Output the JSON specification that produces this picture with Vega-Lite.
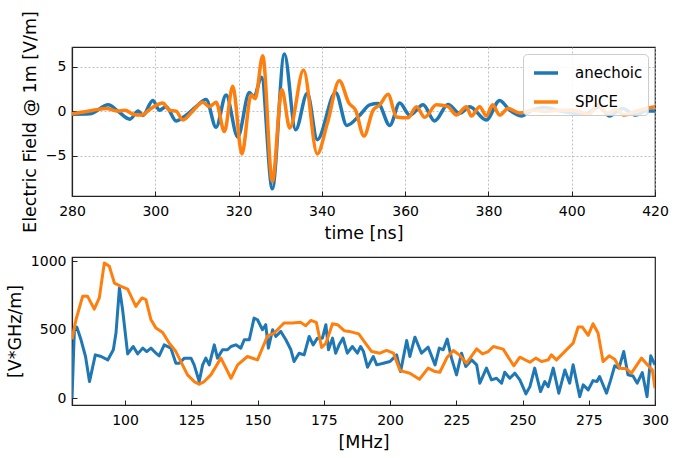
{
  "$schema": "https://vega.github.io/schema/vega-lite/v6.json",
  "padding": {"left": 5, "top": 10, "right": 10, "bottom": 8},
  "bounds": "flush",
  "spacing": 61,
  "config": {
    "font": "DejaVu Sans",
    "view": {"stroke": "#222", "strokeWidth": 1.2},
    "axis": {"labelFont": "DejaVu Sans", "labelFontSize": 14, "labelColor": "#000", "titleFont": "DejaVu Sans", "titleFontSize": 17.5, "titleFontWeight": "normal", "titleColor": "#000", "domainColor": "#222", "domainWidth": 1.2, "tickColor": "#222", "tickSize": -5, "tickWidth": 1, "grid": false, "format": "d", "labelFlush": false},
    "axisX": {"labelPadding": 13, "titlePadding": 6},
    "axisY": {"labelPadding": 11, "titlePadding": 6},
    "legend": {"title": null, "orient": "top-right", "offset": 7, "fillColor": "rgba(255,255,255,0.85)", "strokeColor": "#cccccc", "cornerRadius": 4, "padding": 5, "labelFontSize": 15, "labelFont": "DejaVu Sans", "labelColor": "#000", "symbolType": "stroke", "symbolSize": 576, "symbolStrokeWidth": 3.5, "symbolOffset": 4, "labelOffset": 15, "rowPadding": 7}
  },
  "datasets": {
    "time": [
      {"t": 280, "v": -0.35, "series": "anechoic"},
      {"t": 284.3, "v": -0.3, "series": "anechoic"},
      {"t": 288.7, "v": 0.7, "series": "anechoic"},
      {"t": 291, "v": 0, "series": "anechoic"},
      {"t": 293.9, "v": -0.9, "series": "anechoic"},
      {"t": 295.9, "v": 0, "series": "anechoic"},
      {"t": 297, "v": -0.5, "series": "anechoic"},
      {"t": 299.4, "v": 1.2, "series": "anechoic"},
      {"t": 301, "v": 0.1, "series": "anechoic"},
      {"t": 302.6, "v": 0.5, "series": "anechoic"},
      {"t": 305, "v": -1.1, "series": "anechoic"},
      {"t": 307, "v": -0.6, "series": "anechoic"},
      {"t": 309.8, "v": 0.5, "series": "anechoic"},
      {"t": 312.2, "v": 1.3, "series": "anechoic"},
      {"t": 314.6, "v": -1.8, "series": "anechoic"},
      {"t": 317, "v": 1.8, "series": "anechoic"},
      {"t": 319.8, "v": -2.9, "series": "anechoic"},
      {"t": 322.6, "v": 2.1, "series": "anechoic"},
      {"t": 323.7, "v": 1.6, "series": "anechoic"},
      {"t": 325.5, "v": 3.8, "series": "anechoic"},
      {"t": 328.1, "v": -8.7, "series": "anechoic"},
      {"t": 331, "v": 6.4, "series": "anechoic"},
      {"t": 333.7, "v": -2.1, "series": "anechoic"},
      {"t": 336.5, "v": 2.0, "series": "anechoic"},
      {"t": 338.9, "v": -3.2, "series": "anechoic"},
      {"t": 343.3, "v": 2.1, "series": "anechoic"},
      {"t": 346, "v": -1.6, "series": "anechoic"},
      {"t": 349.1, "v": -0.45, "series": "anechoic"},
      {"t": 351.5, "v": 0.7, "series": "anechoic"},
      {"t": 353.5, "v": 0.85, "series": "anechoic"},
      {"t": 356.3, "v": -1.6, "series": "anechoic"},
      {"t": 358.7, "v": 0.9, "series": "anechoic"},
      {"t": 361.1, "v": -0.45, "series": "anechoic"},
      {"t": 364.3, "v": 0.7, "series": "anechoic"},
      {"t": 367.1, "v": -1.1, "series": "anechoic"},
      {"t": 370.3, "v": 0.75, "series": "anechoic"},
      {"t": 373.1, "v": -0.25, "series": "anechoic"},
      {"t": 375.5, "v": 0.5, "series": "anechoic"},
      {"t": 379.5, "v": -1.0, "series": "anechoic"},
      {"t": 382.7, "v": 1.2, "series": "anechoic"},
      {"t": 385.1, "v": 0.1, "series": "anechoic"},
      {"t": 387.9, "v": -0.55, "series": "anechoic"},
      {"t": 390.6, "v": 0.1, "series": "anechoic"},
      {"t": 393.4, "v": 0.4, "series": "anechoic"},
      {"t": 397, "v": 0.05, "series": "anechoic"},
      {"t": 400.2, "v": -0.2, "series": "anechoic"},
      {"t": 403.4, "v": -0.3, "series": "anechoic"},
      {"t": 406.6, "v": 0.5, "series": "anechoic"},
      {"t": 409, "v": -0.55, "series": "anechoic"},
      {"t": 412.2, "v": 0.3, "series": "anechoic"},
      {"t": 415.4, "v": -0.45, "series": "anechoic"},
      {"t": 417.8, "v": 0, "series": "anechoic"},
      {"t": 420, "v": 0, "series": "anechoic"},
      {"t": 280, "v": -0.3, "series": "SPICE"},
      {"t": 282.7, "v": -0.1, "series": "SPICE"},
      {"t": 285.1, "v": 0.1, "series": "SPICE"},
      {"t": 288.3, "v": 0.3, "series": "SPICE"},
      {"t": 291, "v": 0, "series": "SPICE"},
      {"t": 292.7, "v": 0.1, "series": "SPICE"},
      {"t": 294.7, "v": -0.35, "series": "SPICE"},
      {"t": 296.6, "v": -0.45, "series": "SPICE"},
      {"t": 299, "v": 0.3, "series": "SPICE"},
      {"t": 301.8, "v": 0.9, "series": "SPICE"},
      {"t": 303.4, "v": 0.1, "series": "SPICE"},
      {"t": 305, "v": 0, "series": "SPICE"},
      {"t": 306.6, "v": -1.0, "series": "SPICE"},
      {"t": 309, "v": 0, "series": "SPICE"},
      {"t": 311.4, "v": 1.0, "series": "SPICE"},
      {"t": 313, "v": 0.5, "series": "SPICE"},
      {"t": 314.6, "v": 1.0, "series": "SPICE"},
      {"t": 316.6, "v": -2.3, "series": "SPICE"},
      {"t": 318.6, "v": 2.8, "series": "SPICE"},
      {"t": 320.8, "v": -4.8, "series": "SPICE"},
      {"t": 323, "v": 1.8, "series": "SPICE"},
      {"t": 324, "v": 1.4, "series": "SPICE"},
      {"t": 325.8, "v": 6.2, "series": "SPICE"},
      {"t": 328.1, "v": -7.9, "series": "SPICE"},
      {"t": 330.4, "v": 2.4, "series": "SPICE"},
      {"t": 332.3, "v": -1.9, "series": "SPICE"},
      {"t": 335.6, "v": 4.6, "series": "SPICE"},
      {"t": 338.9, "v": -4.8, "series": "SPICE"},
      {"t": 341.3, "v": -1.4, "series": "SPICE"},
      {"t": 344.2, "v": 3.4, "series": "SPICE"},
      {"t": 346.5, "v": 0.9, "series": "SPICE"},
      {"t": 348.1, "v": 0.1, "series": "SPICE"},
      {"t": 350.1, "v": -2.8, "series": "SPICE"},
      {"t": 352.3, "v": 0.1, "series": "SPICE"},
      {"t": 353.9, "v": 0.7, "series": "SPICE"},
      {"t": 355.9, "v": 1.9, "series": "SPICE"},
      {"t": 357.9, "v": -0.65, "series": "SPICE"},
      {"t": 360.7, "v": -0.75, "series": "SPICE"},
      {"t": 362.7, "v": 0.5, "series": "SPICE"},
      {"t": 364.7, "v": -0.7, "series": "SPICE"},
      {"t": 367.5, "v": 0.7, "series": "SPICE"},
      {"t": 370.3, "v": 0.5, "series": "SPICE"},
      {"t": 372.3, "v": -0.45, "series": "SPICE"},
      {"t": 374.7, "v": 0.5, "series": "SPICE"},
      {"t": 375.9, "v": -0.55, "series": "SPICE"},
      {"t": 377.9, "v": 0.5, "series": "SPICE"},
      {"t": 379.5, "v": -0.55, "series": "SPICE"},
      {"t": 381, "v": 0.7, "series": "SPICE"},
      {"t": 382.7, "v": -0.45, "series": "SPICE"},
      {"t": 384.7, "v": 0.3, "series": "SPICE"},
      {"t": 387.5, "v": -0.2, "series": "SPICE"},
      {"t": 390.6, "v": 0.1, "series": "SPICE"},
      {"t": 393.8, "v": -0.05, "series": "SPICE"},
      {"t": 397, "v": 0.1, "series": "SPICE"},
      {"t": 400.2, "v": 0.1, "series": "SPICE"},
      {"t": 404.2, "v": -0.35, "series": "SPICE"},
      {"t": 406.2, "v": 0.7, "series": "SPICE"},
      {"t": 408.6, "v": -0.2, "series": "SPICE"},
      {"t": 410.6, "v": 0.2, "series": "SPICE"},
      {"t": 412.6, "v": -0.45, "series": "SPICE"},
      {"t": 415.4, "v": 0, "series": "SPICE"},
      {"t": 417.8, "v": 0.3, "series": "SPICE"},
      {"t": 420, "v": 0.5, "series": "SPICE"}
    ],
    "freq": [
      {"f": 80, "v": 0, "series": "anechoic"},
      {"f": 80.9, "v": 500, "series": "anechoic"},
      {"f": 81.8, "v": 520, "series": "anechoic"},
      {"f": 83.4, "v": 427, "series": "anechoic"},
      {"f": 85.1, "v": 305, "series": "anechoic"},
      {"f": 86.6, "v": 122, "series": "anechoic"},
      {"f": 88.8, "v": 317, "series": "anechoic"},
      {"f": 91, "v": 305, "series": "anechoic"},
      {"f": 93.5, "v": 280, "series": "anechoic"},
      {"f": 95.6, "v": 354, "series": "anechoic"},
      {"f": 96.6, "v": 476, "series": "anechoic"},
      {"f": 97.9, "v": 805, "series": "anechoic"},
      {"f": 99.1, "v": 646, "series": "anechoic"},
      {"f": 101, "v": 324, "series": "anechoic"},
      {"f": 103.1, "v": 378, "series": "anechoic"},
      {"f": 104.8, "v": 324, "series": "anechoic"},
      {"f": 106.7, "v": 366, "series": "anechoic"},
      {"f": 108.2, "v": 341, "series": "anechoic"},
      {"f": 109.8, "v": 366, "series": "anechoic"},
      {"f": 111.7, "v": 329, "series": "anechoic"},
      {"f": 112.9, "v": 310, "series": "anechoic"},
      {"f": 114.8, "v": 390, "series": "anechoic"},
      {"f": 117.3, "v": 366, "series": "anechoic"},
      {"f": 119.2, "v": 256, "series": "anechoic"},
      {"f": 120.5, "v": 256, "series": "anechoic"},
      {"f": 122.4, "v": 293, "series": "anechoic"},
      {"f": 124.9, "v": 293, "series": "anechoic"},
      {"f": 126.1, "v": 244, "series": "anechoic"},
      {"f": 128, "v": 122, "series": "anechoic"},
      {"f": 129.3, "v": 244, "series": "anechoic"},
      {"f": 130.5, "v": 293, "series": "anechoic"},
      {"f": 131.8, "v": 244, "series": "anechoic"},
      {"f": 133.7, "v": 390, "series": "anechoic"},
      {"f": 134.9, "v": 293, "series": "anechoic"},
      {"f": 136.8, "v": 354, "series": "anechoic"},
      {"f": 138.7, "v": 354, "series": "anechoic"},
      {"f": 140, "v": 378, "series": "anechoic"},
      {"f": 141.8, "v": 390, "series": "anechoic"},
      {"f": 143.7, "v": 366, "series": "anechoic"},
      {"f": 145, "v": 427, "series": "anechoic"},
      {"f": 146.9, "v": 427, "series": "anechoic"},
      {"f": 148.7, "v": 585, "series": "anechoic"},
      {"f": 150, "v": 573, "series": "anechoic"},
      {"f": 151.9, "v": 500, "series": "anechoic"},
      {"f": 153.1, "v": 537, "series": "anechoic"},
      {"f": 154.1, "v": 366, "series": "anechoic"},
      {"f": 155.7, "v": 500, "series": "anechoic"},
      {"f": 156.9, "v": 451, "series": "anechoic"},
      {"f": 158.8, "v": 488, "series": "anechoic"},
      {"f": 160.7, "v": 427, "series": "anechoic"},
      {"f": 162.6, "v": 354, "series": "anechoic"},
      {"f": 163.8, "v": 268, "series": "anechoic"},
      {"f": 165.7, "v": 329, "series": "anechoic"},
      {"f": 167.6, "v": 317, "series": "anechoic"},
      {"f": 169.5, "v": 451, "series": "anechoic"},
      {"f": 171, "v": 390, "series": "anechoic"},
      {"f": 172.6, "v": 439, "series": "anechoic"},
      {"f": 174.5, "v": 439, "series": "anechoic"},
      {"f": 175.8, "v": 537, "series": "anechoic"},
      {"f": 176.8, "v": 354, "series": "anechoic"},
      {"f": 178.3, "v": 439, "series": "anechoic"},
      {"f": 179.5, "v": 329, "series": "anechoic"},
      {"f": 180.8, "v": 390, "series": "anechoic"},
      {"f": 182.3, "v": 439, "series": "anechoic"},
      {"f": 183.9, "v": 329, "series": "anechoic"},
      {"f": 185.8, "v": 378, "series": "anechoic"},
      {"f": 187.7, "v": 329, "series": "anechoic"},
      {"f": 188.9, "v": 378, "series": "anechoic"},
      {"f": 190, "v": 341, "series": "anechoic"},
      {"f": 191.5, "v": 227, "series": "anechoic"},
      {"f": 193.7, "v": 305, "series": "anechoic"},
      {"f": 195, "v": 244, "series": "anechoic"},
      {"f": 197.5, "v": 256, "series": "anechoic"},
      {"f": 200, "v": 268, "series": "anechoic"},
      {"f": 201.3, "v": 293, "series": "anechoic"},
      {"f": 202.5, "v": 317, "series": "anechoic"},
      {"f": 204, "v": 195, "series": "anechoic"},
      {"f": 206.3, "v": 422, "series": "anechoic"},
      {"f": 207.5, "v": 305, "series": "anechoic"},
      {"f": 209.4, "v": 446, "series": "anechoic"},
      {"f": 211.9, "v": 329, "series": "anechoic"},
      {"f": 214.4, "v": 373, "series": "anechoic"},
      {"f": 217, "v": 244, "series": "anechoic"},
      {"f": 218.6, "v": 366, "series": "anechoic"},
      {"f": 220.1, "v": 354, "series": "anechoic"},
      {"f": 221.6, "v": 432, "series": "anechoic"},
      {"f": 223.2, "v": 293, "series": "anechoic"},
      {"f": 225.1, "v": 171, "series": "anechoic"},
      {"f": 227, "v": 329, "series": "anechoic"},
      {"f": 228.6, "v": 232, "series": "anechoic"},
      {"f": 230.8, "v": 280, "series": "anechoic"},
      {"f": 232.7, "v": 244, "series": "anechoic"},
      {"f": 233.9, "v": 110, "series": "anechoic"},
      {"f": 236.4, "v": 220, "series": "anechoic"},
      {"f": 238.3, "v": 134, "series": "anechoic"},
      {"f": 240.2, "v": 146, "series": "anechoic"},
      {"f": 242.1, "v": 110, "series": "anechoic"},
      {"f": 243.3, "v": 190, "series": "anechoic"},
      {"f": 245.2, "v": 146, "series": "anechoic"},
      {"f": 247.1, "v": 183, "series": "anechoic"},
      {"f": 249, "v": 134, "series": "anechoic"},
      {"f": 251.3, "v": 32, "series": "anechoic"},
      {"f": 252.8, "v": 85, "series": "anechoic"},
      {"f": 254.6, "v": 220, "series": "anechoic"},
      {"f": 256.8, "v": 49, "series": "anechoic"},
      {"f": 258.4, "v": 122, "series": "anechoic"},
      {"f": 259.7, "v": 85, "series": "anechoic"},
      {"f": 261.6, "v": 220, "series": "anechoic"},
      {"f": 263.7, "v": 37, "series": "anechoic"},
      {"f": 266, "v": 207, "series": "anechoic"},
      {"f": 267.8, "v": 110, "series": "anechoic"},
      {"f": 269.1, "v": 244, "series": "anechoic"},
      {"f": 271.6, "v": 12, "series": "anechoic"},
      {"f": 272.9, "v": 98, "series": "anechoic"},
      {"f": 274.8, "v": 61, "series": "anechoic"},
      {"f": 276.6, "v": 129, "series": "anechoic"},
      {"f": 278.1, "v": 122, "series": "anechoic"},
      {"f": 279.1, "v": 159, "series": "anechoic"},
      {"f": 281.7, "v": 37, "series": "anechoic"},
      {"f": 283.2, "v": 129, "series": "anechoic"},
      {"f": 284.8, "v": 237, "series": "anechoic"},
      {"f": 286.4, "v": 220, "series": "anechoic"},
      {"f": 288.2, "v": 341, "series": "anechoic"},
      {"f": 289.8, "v": 171, "series": "anechoic"},
      {"f": 291.7, "v": 163, "series": "anechoic"},
      {"f": 293.3, "v": 110, "series": "anechoic"},
      {"f": 295.2, "v": 188, "series": "anechoic"},
      {"f": 297, "v": 12, "series": "anechoic"},
      {"f": 298.4, "v": 310, "series": "anechoic"},
      {"f": 300, "v": 244, "series": "anechoic"},
      {"f": 80, "v": 430, "series": "SPICE"},
      {"f": 81.5, "v": 573, "series": "SPICE"},
      {"f": 84, "v": 744, "series": "SPICE"},
      {"f": 85.9, "v": 744, "series": "SPICE"},
      {"f": 88.4, "v": 651, "series": "SPICE"},
      {"f": 90.3, "v": 732, "series": "SPICE"},
      {"f": 92.2, "v": 988, "series": "SPICE"},
      {"f": 94.1, "v": 963, "series": "SPICE"},
      {"f": 96, "v": 841, "series": "SPICE"},
      {"f": 98.5, "v": 817, "series": "SPICE"},
      {"f": 101, "v": 797, "series": "SPICE"},
      {"f": 104.1, "v": 671, "series": "SPICE"},
      {"f": 106.4, "v": 732, "series": "SPICE"},
      {"f": 107.9, "v": 720, "series": "SPICE"},
      {"f": 109.8, "v": 573, "series": "SPICE"},
      {"f": 111.7, "v": 512, "series": "SPICE"},
      {"f": 114.2, "v": 480, "series": "SPICE"},
      {"f": 116.7, "v": 402, "series": "SPICE"},
      {"f": 119.2, "v": 341, "series": "SPICE"},
      {"f": 121.7, "v": 244, "series": "SPICE"},
      {"f": 123.6, "v": 171, "series": "SPICE"},
      {"f": 126.1, "v": 122, "series": "SPICE"},
      {"f": 128, "v": 102, "series": "SPICE"},
      {"f": 129.9, "v": 122, "series": "SPICE"},
      {"f": 132.4, "v": 171, "series": "SPICE"},
      {"f": 136.2, "v": 293, "series": "SPICE"},
      {"f": 140, "v": 146, "series": "SPICE"},
      {"f": 142.5, "v": 244, "series": "SPICE"},
      {"f": 146.2, "v": 305, "series": "SPICE"},
      {"f": 150, "v": 280, "series": "SPICE"},
      {"f": 153.8, "v": 456, "series": "SPICE"},
      {"f": 156.3, "v": 476, "series": "SPICE"},
      {"f": 160, "v": 549, "series": "SPICE"},
      {"f": 163.2, "v": 549, "series": "SPICE"},
      {"f": 166.3, "v": 554, "series": "SPICE"},
      {"f": 168.2, "v": 529, "series": "SPICE"},
      {"f": 170.1, "v": 568, "series": "SPICE"},
      {"f": 172.2, "v": 554, "series": "SPICE"},
      {"f": 174.2, "v": 371, "series": "SPICE"},
      {"f": 175.8, "v": 402, "series": "SPICE"},
      {"f": 178.3, "v": 544, "series": "SPICE"},
      {"f": 180.2, "v": 537, "series": "SPICE"},
      {"f": 182.7, "v": 493, "series": "SPICE"},
      {"f": 184.6, "v": 488, "series": "SPICE"},
      {"f": 188.2, "v": 470, "series": "SPICE"},
      {"f": 191.2, "v": 390, "series": "SPICE"},
      {"f": 193.1, "v": 341, "series": "SPICE"},
      {"f": 196.2, "v": 329, "series": "SPICE"},
      {"f": 198.7, "v": 349, "series": "SPICE"},
      {"f": 201.3, "v": 329, "series": "SPICE"},
      {"f": 203.8, "v": 202, "series": "SPICE"},
      {"f": 207.5, "v": 183, "series": "SPICE"},
      {"f": 211.1, "v": 139, "series": "SPICE"},
      {"f": 214.4, "v": 220, "series": "SPICE"},
      {"f": 217, "v": 195, "series": "SPICE"},
      {"f": 218.8, "v": 190, "series": "SPICE"},
      {"f": 221.6, "v": 300, "series": "SPICE"},
      {"f": 223.9, "v": 349, "series": "SPICE"},
      {"f": 226.1, "v": 317, "series": "SPICE"},
      {"f": 228.9, "v": 256, "series": "SPICE"},
      {"f": 232.7, "v": 361, "series": "SPICE"},
      {"f": 234.9, "v": 324, "series": "SPICE"},
      {"f": 237.1, "v": 341, "series": "SPICE"},
      {"f": 239, "v": 378, "series": "SPICE"},
      {"f": 242.7, "v": 359, "series": "SPICE"},
      {"f": 246.7, "v": 237, "series": "SPICE"},
      {"f": 249, "v": 300, "series": "SPICE"},
      {"f": 252.8, "v": 263, "series": "SPICE"},
      {"f": 255, "v": 293, "series": "SPICE"},
      {"f": 257.2, "v": 268, "series": "SPICE"},
      {"f": 259.7, "v": 280, "series": "SPICE"},
      {"f": 260.9, "v": 317, "series": "SPICE"},
      {"f": 262.8, "v": 280, "series": "SPICE"},
      {"f": 264.7, "v": 317, "series": "SPICE"},
      {"f": 267.2, "v": 366, "series": "SPICE"},
      {"f": 269.1, "v": 402, "series": "SPICE"},
      {"f": 271, "v": 520, "series": "SPICE"},
      {"f": 272.6, "v": 520, "series": "SPICE"},
      {"f": 274.8, "v": 459, "series": "SPICE"},
      {"f": 276.6, "v": 544, "series": "SPICE"},
      {"f": 278.5, "v": 476, "series": "SPICE"},
      {"f": 280.4, "v": 268, "series": "SPICE"},
      {"f": 282.7, "v": 310, "series": "SPICE"},
      {"f": 284.8, "v": 285, "series": "SPICE"},
      {"f": 286.7, "v": 220, "series": "SPICE"},
      {"f": 289.2, "v": 215, "series": "SPICE"},
      {"f": 291.1, "v": 183, "series": "SPICE"},
      {"f": 294.9, "v": 293, "series": "SPICE"},
      {"f": 298, "v": 227, "series": "SPICE"},
      {"f": 299, "v": 207, "series": "SPICE"},
      {"f": 300, "v": 73, "series": "SPICE"}
    ]
  },
  "vconcat": [
    {
      "width": 583,
      "height": 149,
      "data": {"name": "time"},
      "mark": {"type": "line", "strokeWidth": 3.5, "interpolate": "monotone", "clip": true, "strokeJoin": "round"},
      "encoding": {
        "x": {"field": "t", "type": "quantitative", "scale": {"domain": [280, 420], "nice": false, "zero": false},
              "axis": {"values": [280, 300, 320, 340, 360, 380, 400, 420], "title": "time [ns]", "grid": true, "gridDash": [2, 2], "gridColor": "#b0b0b0", "gridWidth": 0.8}},
        "y": {"field": "v", "type": "quantitative", "scale": {"domain": [-9.52, 7.19], "nice": false, "zero": false},
              "axis": {"values": [-5, 0, 5], "title": "Electric Field @ 1m [V/m]", "grid": true, "gridDash": [2, 2], "gridColor": "#b0b0b0", "gridWidth": 0.8}},
        "color": {"field": "series", "type": "nominal", "scale": {"domain": ["anechoic", "SPICE"], "range": ["#1f77b4", "#ff7f0e"]},
                  "legend": {"title": null, "orient": "top-right"}}
      }
    },
    {
      "width": 583,
      "height": 148,
      "data": {"name": "freq"},
      "mark": {"type": "line", "strokeWidth": 3, "clip": true, "strokeJoin": "round"},
      "encoding": {
        "x": {"field": "f", "type": "quantitative", "scale": {"domain": [80, 300], "nice": false, "zero": false},
              "axis": {"values": [100, 125, 150, 175, 200, 225, 250, 275, 300], "title": "[MHz]"}},
        "y": {"field": "v", "type": "quantitative", "scale": {"domain": [-49, 1031], "nice": false, "zero": false},
              "axis": {"values": [0, 500, 1000], "title": "[V*GHz/m]"}},
        "color": {"field": "series", "type": "nominal", "scale": {"domain": ["anechoic", "SPICE"], "range": ["#1f77b4", "#ff7f0e"]},
                  "legend": null}
      }
    }
  ],
  "resolve": {"legend": {"color": "independent"}}
}
